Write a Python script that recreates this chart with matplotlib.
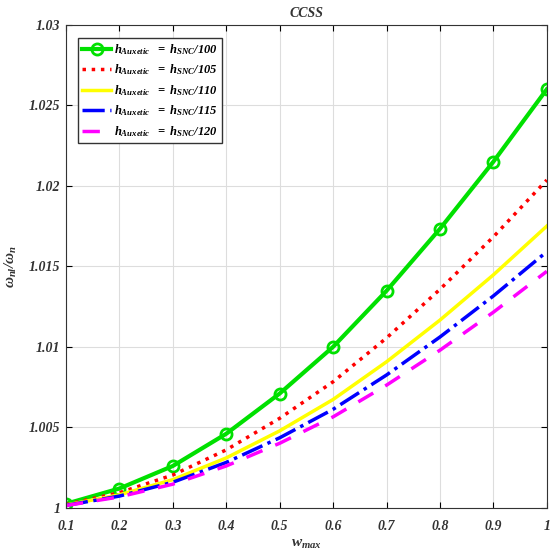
import numpy as np
import matplotlib
matplotlib.use("Agg")
import matplotlib.pyplot as plt

plt.rcParams['font.family'] = ['Liberation Serif', 'DejaVu Serif']
plt.rcParams['font.weight'] = 'bold'
plt.rcParams['font.style'] = 'italic'
plt.rcParams['mathtext.fontset'] = 'custom'
plt.rcParams['mathtext.rm'] = 'Liberation Serif:bold:italic'
plt.rcParams['mathtext.it'] = 'Liberation Serif:bold:italic'
plt.rcParams['mathtext.bf'] = 'Liberation Serif:bold:italic'

# data
w_max = [0.1, 0.2, 0.3, 0.4, 0.5, 0.6, 0.7, 0.8, 0.9, 1.0]
h100 = [1.00025, 1.0012, 1.0026, 1.0046, 1.0071, 1.0100, 1.01348, 1.01733, 1.0215, 1.0260]
h105 = [1.0002, 1.00094, 1.00204, 1.0036, 1.00556, 1.00783, 1.01055, 1.01357, 1.01683, 1.02036]
h110 = [1.00017, 1.00081, 1.00175, 1.0031, 1.00478, 1.00673, 1.00907, 1.01166, 1.01447, 1.0175]
h115 = [1.00015, 1.00073, 1.00159, 1.00282, 1.00435, 1.00612, 1.00825, 1.01061, 1.01316, 1.01591]
h120 = [1.00014, 1.00068, 1.00147, 1.0026, 1.00401, 1.00565, 1.00762, 1.00979, 1.01215, 1.01469]

labels = [r'$h_{Auxetic}\ \ =\ h_{SNC}/100$',
          r'$h_{Auxetic}\ \ =\ h_{SNC}/105$',
          r'$h_{Auxetic}\ \ =\ h_{SNC}/110$',
          r'$h_{Auxetic}\ \ =\ h_{SNC}/115$',
          r'$h_{Auxetic}\ \ =\ h_{SNC}/120$']

fig = plt.figure(figsize=(5.54, 5.52), dpi=100)
ax = fig.add_axes([0.119, 0.080, 0.868, 0.875])

ax.plot(w_max, h100, color='#00e000', lw=3, marker='o', ms=8, mfc='none', mew=2, label=labels[0])
ax.plot(w_max, h105, color='red', lw=2.5, ls=':', label=labels[1])
ax.plot(w_max, h110, color='#ffff00', lw=2.5, ls='-', label=labels[2])
ax.plot(w_max, h115, color='blue', lw=2.5, ls='-.', label=labels[3])
ax.plot(w_max, h120, color='magenta', lw=2.5, ls=(0, (5, 4)), label=labels[4])

ax.set_xlim(0.1, 1)
ax.set_ylim(1, 1.03)
ax.set_xticks([0.1, 0.2, 0.3, 0.4, 0.5, 0.6, 0.7, 0.8, 0.9, 1])
ax.set_xticklabels(['0.1', '0.2', '0.3', '0.4', '0.5', '0.6', '0.7', '0.8', '0.9', '1'])
ax.set_yticks([1, 1.005, 1.01, 1.015, 1.02, 1.025, 1.03])
ax.set_yticklabels(['1', '1.005', '1.01', '1.015', '1.02', '1.025', '1.03'])
ax.tick_params(direction='in', top=True, right=True, labelsize=10, length=4)
ax.tick_params(axis='x', pad=9)
ax.tick_params(axis='y', pad=4)
for lab in ax.get_xticklabels() + ax.get_yticklabels():
    lab.set_fontweight('bold')
    lab.set_fontstyle('italic')
    lab.set_color('#333333')
ax.grid(True, color='#dddddd', lw=0.8)
for s in ax.spines.values():
    s.set_color('#333333')

ax.set_title('CCSS', fontsize=10, fontweight='bold', fontstyle='italic', color='#333333', pad=6)
ax.set_xlabel(r'$w_{max}$', fontsize=11, color='#333333', labelpad=3)
ax.set_ylabel(r'$\omega_{nl}/\omega_n$', fontsize=11, color='#333333', labelpad=7)

leg = ax.legend(loc='upper left', fontsize=9, frameon=True, fancybox=False,
                handlelength=2.3, borderpad=0.35, labelspacing=0.45, handletextpad=0.2,
                borderaxespad=0, bbox_to_anchor=(0.025, 0.973))
leg.get_frame().set_edgecolor('#333333')
leg.get_frame().set_linewidth(1)
leg.get_frame().set_alpha(1)

fig.savefig('out.png', dpi=100)
